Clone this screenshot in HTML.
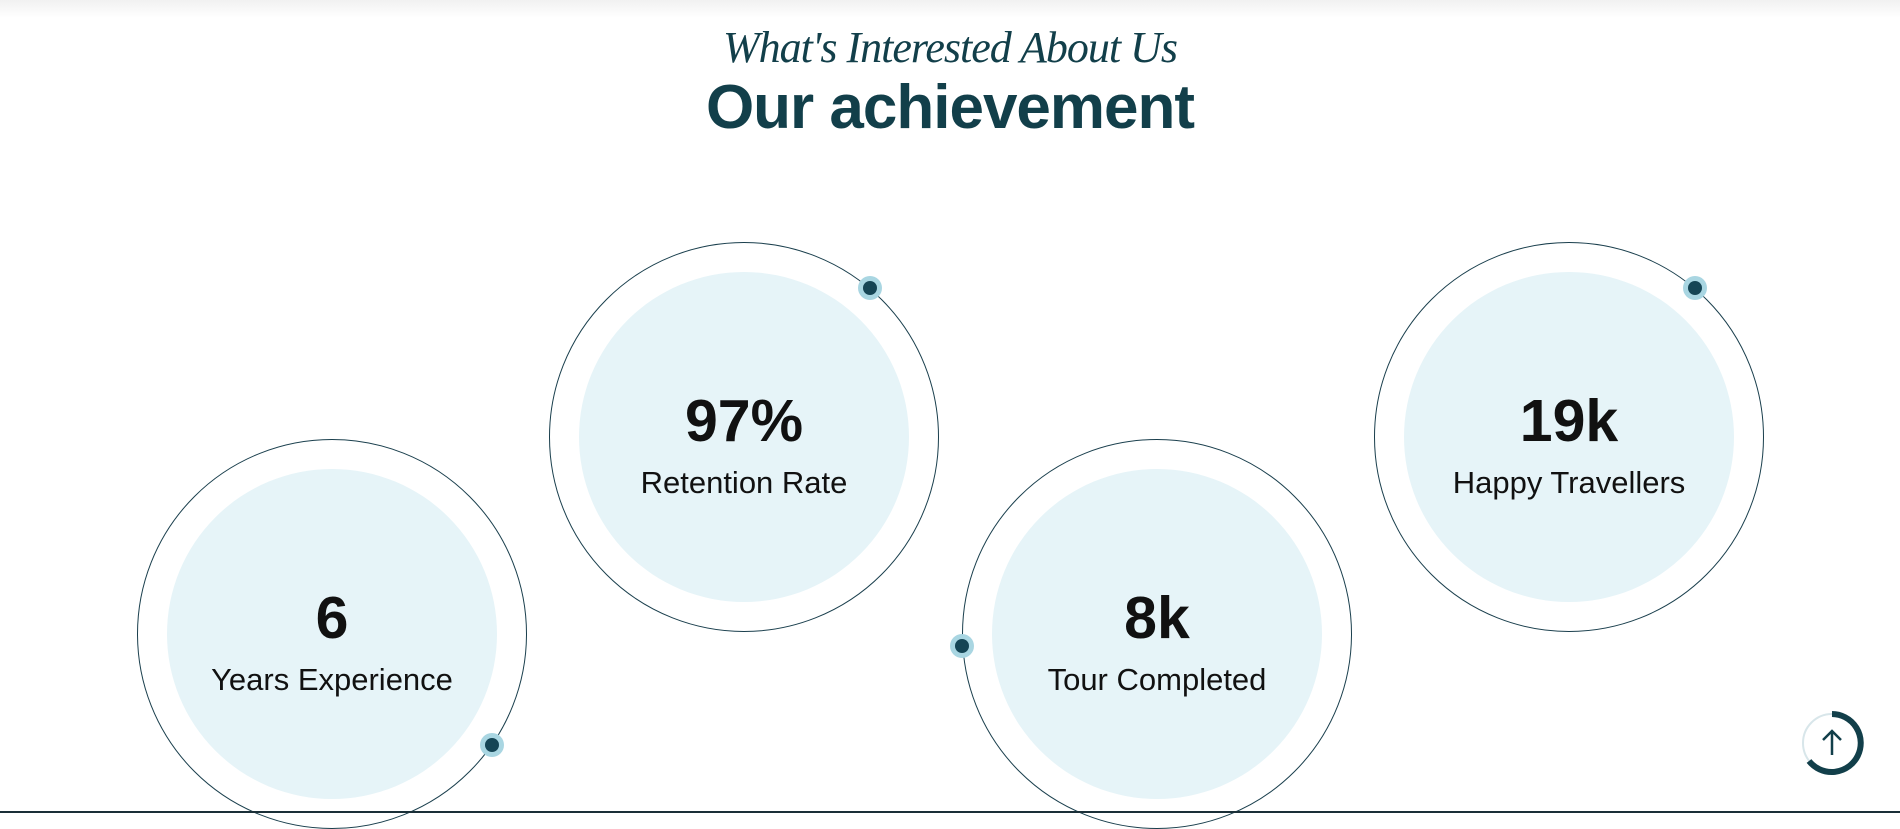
<!DOCTYPE html>
<html><head><meta charset="utf-8"><style>
html,body{margin:0;padding:0;width:1900px;height:813px;overflow:hidden;background:#fff;font-family:"Liberation Sans",sans-serif}
.topshade{position:absolute;left:0;top:0;width:1900px;height:18px;background:linear-gradient(#f1f1f1,#fff)}
.sub{position:absolute;left:0;width:1900px;top:22px;text-align:center;font-family:"Liberation Serif",serif;font-style:italic;font-size:44px;color:#123f4a;letter-spacing:-1px}
.title{position:absolute;left:0;width:1900px;top:72px;text-align:center;font-size:62px;font-weight:bold;color:#123f4a;letter-spacing:-1px}
.stat{position:absolute;width:390px;height:390px;margin-left:-195px;margin-top:-195px}
.num{position:absolute;left:0;width:390px;text-align:center;font-size:59px;font-weight:bold;color:#111;top:-50px}
.lab{position:absolute;left:0;width:390px;text-align:center;font-size:31px;color:#111;top:28px}
.wrap{position:absolute;left:0;top:195px;width:390px;height:0}
.bottom{position:absolute;left:0;top:811px;width:1900px;height:2px;background:#1a2f38}
</style></head><body>
<div class="topshade"></div>
<div class="sub">What's Interested About Us</div>
<div class="title">Our achievement</div>

<div class="stat" style="left:332px;top:634px">
<svg width="390" height="390" style="position:absolute;left:0;top:0;overflow:visible"><circle cx="195" cy="195" r="194.5" fill="none" stroke="#1a3f4d" stroke-width="1"/><circle cx="195" cy="195" r="165" fill="#e6f4f8"/><circle cx="355" cy="306" r="12" fill="#a9d6e2"/><circle cx="355" cy="306" r="7" fill="#154555"/></svg>
<div class="wrap"><div class="num">6</div><div class="lab">Years Experience</div></div></div>

<div class="stat" style="left:744px;top:437px">
<svg width="390" height="390" style="position:absolute;left:0;top:0;overflow:visible"><circle cx="195" cy="195" r="194.5" fill="none" stroke="#1a3f4d" stroke-width="1"/><circle cx="195" cy="195" r="165" fill="#e6f4f8"/><circle cx="321" cy="46" r="12" fill="#a9d6e2"/><circle cx="321" cy="46" r="7" fill="#154555"/></svg>
<div class="wrap"><div class="num">97%</div><div class="lab">Retention Rate</div></div></div>

<div class="stat" style="left:1157px;top:634px">
<svg width="390" height="390" style="position:absolute;left:0;top:0;overflow:visible"><circle cx="195" cy="195" r="194.5" fill="none" stroke="#1a3f4d" stroke-width="1"/><circle cx="195" cy="195" r="165" fill="#e6f4f8"/><circle cx="0" cy="207" r="12" fill="#a9d6e2"/><circle cx="0" cy="207" r="7" fill="#154555"/></svg>
<div class="wrap"><div class="num">8k</div><div class="lab">Tour Completed</div></div></div>

<div class="stat" style="left:1569px;top:437px">
<svg width="390" height="390" style="position:absolute;left:0;top:0;overflow:visible"><circle cx="195" cy="195" r="194.5" fill="none" stroke="#1a3f4d" stroke-width="1"/><circle cx="195" cy="195" r="165" fill="#e6f4f8"/><circle cx="321" cy="46" r="12" fill="#a9d6e2"/><circle cx="321" cy="46" r="7" fill="#154555"/></svg>
<div class="wrap"><div class="num">19k</div><div class="lab">Happy Travellers</div></div></div>

<svg style="position:absolute;left:1798px;top:709px" width="68" height="68">
<circle cx="34" cy="34" r="29" fill="#fff" stroke="#d8e6ea" stroke-width="2"/>
<path d="M34 5 A29 29 0 1 1 11 52" fill="none" stroke="#123f4a" stroke-width="6"/>
<path d="M34 46 V22 M25 31 L34 22 L43 31" fill="none" stroke="#123f4a" stroke-width="2.5"/>
</svg>
<div class="bottom"></div>
</body></html>
